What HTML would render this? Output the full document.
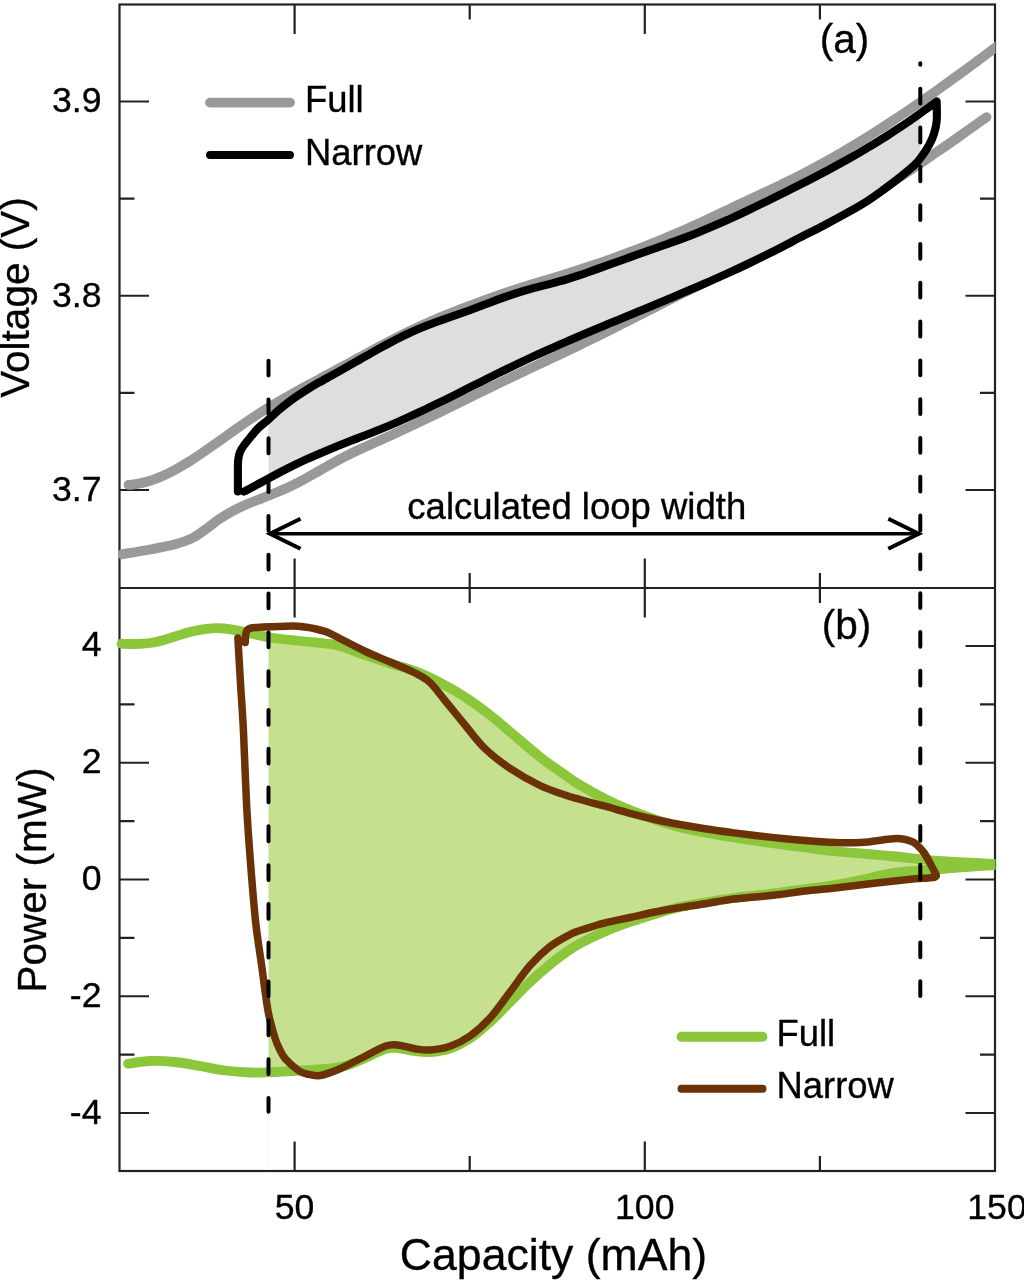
<!DOCTYPE html>
<html lang="en">
<head>
<meta charset="utf-8">
<title>Voltage and power versus capacity</title>
<style>
html,body{margin:0;padding:0;background:#fff;}
body{width:1024px;height:1280px;overflow:hidden;}
svg{display:block;will-change:transform;}
</style>
</head>
<body>
<svg width="1024" height="1280" viewBox="0 0 1024 1280">
<defs>
<clipPath id="clipA"><rect x="118.00" y="4.50" width="877.50" height="583.50"/></clipPath>
<clipPath id="clipB"><rect x="115.50" y="588.00" width="880.00" height="583.00"/></clipPath>
<clipPath id="band"><rect x="268.50" y="0" width="651.80" height="1280"/></clipPath>
</defs>
<rect width="1024" height="1280" fill="#fff"/>
<g stroke="#222222" stroke-width="2.2" fill="none" stroke-linecap="butt">
<rect x="119.50" y="4.50" width="875.50" height="1166.50"/>
<path d="M119.50 588.00 H995.00"/>
<path d="M294.60 4.50 v29.50 M294.60 558.50 v59.00 M294.60 1171.00 v-29.50 M469.70 4.50 v15.00 M469.70 573.00 v30.00 M469.70 1171.00 v-15.00 M644.80 4.50 v29.50 M644.80 558.50 v59.00 M644.80 1171.00 v-29.50 M819.90 4.50 v15.00 M819.90 573.00 v30.00 M819.90 1171.00 v-15.00 M119.50 101.50 h29.50 M995.00 101.50 h-29.50 M119.50 198.62 h15.00 M995.00 198.62 h-15.00 M119.50 295.75 h29.50 M995.00 295.75 h-29.50 M119.50 392.87 h15.00 M995.00 392.87 h-15.00 M119.50 490.00 h29.50 M995.00 490.00 h-29.50 M119.50 1113.00 h29.50 M995.00 1113.00 h-29.50 M119.50 1054.62 h15.00 M995.00 1054.62 h-15.00 M119.50 996.25 h29.50 M995.00 996.25 h-29.50 M119.50 937.88 h15.00 M995.00 937.88 h-15.00 M119.50 879.50 h29.50 M995.00 879.50 h-29.50 M119.50 821.12 h15.00 M995.00 821.12 h-15.00 M119.50 762.75 h29.50 M995.00 762.75 h-29.50 M119.50 704.38 h15.00 M995.00 704.38 h-15.00 M119.50 646.00 h29.50 M995.00 646.00 h-29.50"/>
</g>
<g clip-path="url(#clipA)">
<path d="M128.50 484.96 C130.18 484.75 135.20 484.32 138.55 483.69 C141.90 483.07 145.25 482.21 148.60 481.20 C151.95 480.18 155.30 478.96 158.66 477.61 C162.01 476.25 165.36 474.72 168.71 473.07 C172.06 471.42 175.41 469.62 178.76 467.73 C182.11 465.84 185.46 463.82 188.81 461.73 C192.16 459.65 195.51 457.45 198.86 455.22 C202.21 452.99 205.56 450.67 208.91 448.34 C212.26 446.01 215.61 443.62 218.97 441.23 C222.32 438.85 225.67 436.43 229.02 434.05 C232.37 431.66 235.72 429.27 239.07 426.93 C242.42 424.59 245.77 422.26 249.12 420.01 C252.47 417.76 255.82 415.57 259.17 413.43 C262.52 411.29 265.87 409.21 269.22 407.17 C272.57 405.12 275.93 403.13 279.28 401.17 C282.63 399.21 285.98 397.30 289.33 395.40 C292.68 393.51 296.03 391.65 299.38 389.81 C302.73 387.96 306.08 386.15 309.43 384.34 C312.78 382.52 316.13 380.73 319.48 378.94 C322.83 377.14 326.18 375.36 329.53 373.57 C332.89 371.77 336.24 369.98 339.59 368.17 C342.94 366.36 346.29 364.54 349.64 362.72 C352.99 360.89 356.34 359.06 359.69 357.23 C363.04 355.40 366.39 353.57 369.74 351.75 C373.09 349.94 376.44 348.13 379.79 346.34 C383.14 344.55 386.49 342.77 389.84 341.03 C393.20 339.28 396.55 337.55 399.90 335.86 C403.25 334.17 406.60 332.51 409.95 330.89 C413.30 329.27 416.65 327.69 420.00 326.15 C423.35 324.62 426.70 323.12 430.05 321.66 C433.40 320.20 436.75 318.78 440.10 317.38 C443.45 315.98 446.80 314.62 450.16 313.28 C453.51 311.93 456.86 310.62 460.21 309.32 C463.56 308.02 466.91 306.75 470.26 305.48 C473.61 304.22 476.96 302.97 480.31 301.74 C483.66 300.51 487.01 299.29 490.36 298.09 C493.71 296.90 497.06 295.72 500.41 294.57 C503.76 293.41 507.11 292.27 510.47 291.16 C513.82 290.05 517.17 288.96 520.52 287.89 C523.87 286.82 527.22 285.78 530.57 284.75 C533.92 283.72 537.27 282.70 540.62 281.69 C543.97 280.68 547.32 279.67 550.67 278.66 C554.02 277.65 557.37 276.64 560.72 275.62 C564.07 274.59 567.43 273.56 570.78 272.50 C574.13 271.45 577.48 270.38 580.83 269.29 C584.18 268.20 587.53 267.10 590.88 265.97 C594.23 264.85 597.58 263.71 600.93 262.55 C604.28 261.39 607.63 260.22 610.98 259.02 C614.33 257.83 617.68 256.61 621.03 255.38 C624.39 254.15 627.74 252.90 631.09 251.63 C634.44 250.37 637.79 249.08 641.14 247.77 C644.49 246.47 647.84 245.14 651.19 243.80 C654.54 242.46 657.89 241.09 661.24 239.71 C664.59 238.33 667.94 236.93 671.29 235.51 C674.64 234.09 677.99 232.65 681.34 231.19 C684.70 229.73 688.05 228.25 691.40 226.75 C694.75 225.25 698.10 223.73 701.45 222.19 C704.80 220.66 708.15 219.10 711.50 217.53 C714.85 215.97 718.20 214.39 721.55 212.80 C724.90 211.22 728.25 209.63 731.60 208.04 C734.95 206.45 738.30 204.85 741.66 203.26 C745.01 201.68 748.36 200.10 751.71 198.52 C755.06 196.94 758.41 195.38 761.76 193.81 C765.11 192.23 768.46 190.67 771.81 189.08 C775.16 187.50 778.51 185.91 781.86 184.30 C785.21 182.68 788.56 181.06 791.91 179.40 C795.26 177.75 798.61 176.07 801.97 174.35 C805.32 172.63 808.67 170.89 812.02 169.11 C815.37 167.33 818.72 165.51 822.07 163.67 C825.42 161.83 828.77 159.96 832.12 158.06 C835.47 156.15 838.82 154.22 842.17 152.26 C845.52 150.31 848.87 148.32 852.22 146.31 C855.57 144.29 858.93 142.25 862.28 140.19 C865.63 138.12 868.98 136.03 872.33 133.91 C875.68 131.80 879.03 129.66 882.38 127.50 C885.73 125.33 889.08 123.15 892.43 120.94 C895.78 118.73 899.13 116.50 902.48 114.25 C905.83 112.00 909.18 109.73 912.53 107.44 C915.89 105.15 919.24 102.84 922.59 100.51 C925.94 98.18 929.29 95.84 932.64 93.47 C935.99 91.11 939.34 88.73 942.69 86.34 C946.04 83.94 949.39 81.53 952.74 79.10 C956.09 76.68 959.44 74.23 962.79 71.78 C966.14 69.33 969.49 66.86 972.84 64.38 C976.20 61.90 979.55 59.41 982.90 56.91 C986.25 54.40 989.60 51.89 992.95 49.37 C996.30 46.84 1001.32 43.03 1003.00 41.77" fill="none" stroke="#999999" stroke-width="9.8" stroke-linecap="round" stroke-linejoin="round"/>
<path d="M122.00 554.30 C126.67 553.50 141.17 551.17 150.00 549.50 C158.83 547.83 167.92 546.22 175.00 544.30 C182.08 542.38 187.08 540.74 192.50 538.00 C197.92 535.26 203.34 530.84 207.50 527.89 C211.66 524.94 214.16 522.64 217.49 520.33 C220.82 518.02 224.15 515.96 227.47 514.02 C230.80 512.08 234.13 510.35 237.46 508.69 C240.79 507.04 244.12 505.55 247.45 504.10 C250.78 502.64 254.11 501.31 257.44 499.97 C260.76 498.62 264.09 497.36 267.42 496.04 C270.75 494.72 274.08 493.44 277.41 492.06 C280.74 490.68 284.07 489.29 287.40 487.77 C290.73 486.24 294.06 484.62 297.38 482.92 C300.71 481.21 304.04 479.38 307.37 477.55 C310.70 475.71 314.03 473.78 317.36 471.88 C320.69 469.98 324.02 468.03 327.35 466.14 C330.68 464.26 334.00 462.36 337.33 460.57 C340.66 458.77 343.99 457.03 347.32 455.36 C350.65 453.68 353.98 452.09 357.31 450.51 C360.64 448.94 363.97 447.43 367.29 445.92 C370.62 444.41 373.95 442.94 377.28 441.46 C380.61 439.98 383.94 438.52 387.27 437.03 C390.60 435.54 393.93 434.04 397.26 432.51 C400.59 430.99 403.91 429.45 407.24 427.89 C410.57 426.33 413.90 424.76 417.23 423.17 C420.56 421.59 423.89 419.99 427.22 418.38 C430.55 416.77 433.88 415.16 437.21 413.53 C440.53 411.91 443.86 410.28 447.19 408.64 C450.52 407.01 453.85 405.37 457.18 403.73 C460.51 402.09 463.84 400.44 467.17 398.81 C470.50 397.17 473.82 395.53 477.15 393.89 C480.48 392.26 483.81 390.63 487.14 389.01 C490.47 387.39 493.80 385.78 497.13 384.17 C500.46 382.57 503.79 380.97 507.12 379.38 C510.44 377.79 513.77 376.21 517.10 374.63 C520.43 373.05 523.76 371.48 527.09 369.90 C530.42 368.33 533.75 366.76 537.08 365.19 C540.41 363.62 543.74 362.05 547.06 360.48 C550.39 358.91 553.72 357.34 557.05 355.76 C560.38 354.18 563.71 352.60 567.04 351.01 C570.37 349.42 573.70 347.83 577.03 346.23 C580.35 344.63 583.68 343.02 587.01 341.41 C590.34 339.79 593.67 338.16 597.00 336.52 C600.33 334.88 603.66 333.23 606.99 331.57 C610.32 329.91 613.65 328.24 616.97 326.56 C620.30 324.89 623.63 323.20 626.96 321.52 C630.29 319.83 633.62 318.14 636.95 316.44 C640.28 314.75 643.61 313.05 646.94 311.36 C650.26 309.66 653.59 307.97 656.92 306.27 C660.25 304.58 663.58 302.89 666.91 301.21 C670.24 299.52 673.57 297.84 676.90 296.17 C680.23 294.50 683.56 292.83 686.88 291.18 C690.21 289.52 693.54 287.87 696.87 286.24 C700.20 284.60 703.53 282.98 706.86 281.37 C710.19 279.75 713.52 278.15 716.85 276.55 C720.18 274.94 723.50 273.35 726.83 271.75 C730.16 270.16 733.49 268.57 736.82 266.97 C740.15 265.38 743.48 263.79 746.81 262.19 C750.14 260.58 753.47 258.98 756.79 257.37 C760.12 255.76 763.45 254.14 766.78 252.50 C770.11 250.87 773.44 249.23 776.77 247.57 C780.10 245.92 783.43 244.25 786.76 242.56 C790.09 240.87 793.41 239.16 796.74 237.44 C800.07 235.71 803.40 233.96 806.73 232.19 C810.06 230.42 813.39 228.63 816.72 226.82 C820.05 225.00 823.38 223.17 826.71 221.31 C830.03 219.46 833.36 217.58 836.69 215.68 C840.02 213.78 843.35 211.86 846.68 209.92 C850.01 207.97 853.34 206.01 856.67 204.02 C860.00 202.04 863.32 200.03 866.65 198.00 C869.98 195.97 873.31 193.92 876.64 191.85 C879.97 189.77 883.30 187.68 886.63 185.56 C889.96 183.45 893.29 181.31 896.62 179.15 C899.94 176.99 903.27 174.81 906.60 172.61 C909.93 170.40 913.26 168.18 916.59 165.94 C919.92 163.70 923.25 161.44 926.58 159.17 C929.91 156.90 933.24 154.61 936.56 152.31 C939.89 150.01 943.22 147.70 946.55 145.38 C949.88 143.05 953.21 140.72 956.54 138.38 C959.87 136.04 963.20 133.69 966.53 131.33 C969.85 128.98 973.18 126.62 976.51 124.25 C979.84 121.89 984.84 118.34 986.50 117.15" fill="none" stroke="#999999" stroke-width="9.8" stroke-linecap="round" stroke-linejoin="round"/>
</g>
<g clip-path="url(#band)"><path d="M237.9 491.5 L237.9 466 C237.97 464.83 237.95 461.33 238.30 459.00 C238.65 456.67 239.13 454.17 240.00 452.00 C240.87 449.83 241.73 448.50 243.50 446.00 C245.27 443.50 248.12 440.00 250.60 437.00 C253.08 434.00 255.42 430.92 258.40 428.00 C261.38 425.08 265.15 422.42 268.50 419.47 C271.85 416.52 275.16 413.17 278.49 410.30 C281.82 407.44 285.15 404.79 288.48 402.27 C291.82 399.74 295.15 397.41 298.48 395.15 C301.81 392.90 305.14 390.80 308.47 388.75 C311.80 386.70 315.13 384.77 318.46 382.85 C321.79 380.93 325.12 379.09 328.45 377.24 C331.78 375.38 335.12 373.57 338.45 371.71 C341.78 369.85 345.11 367.97 348.44 366.08 C351.77 364.20 355.10 362.28 358.43 360.37 C361.76 358.47 365.09 356.55 368.42 354.66 C371.75 352.77 375.08 350.88 378.42 349.03 C381.75 347.18 385.08 345.35 388.41 343.57 C391.74 341.79 395.07 340.04 398.40 338.36 C401.73 336.68 405.06 335.05 408.39 333.49 C411.72 331.94 415.05 330.46 418.38 329.05 C421.72 327.64 425.05 326.32 428.38 325.03 C431.71 323.74 435.04 322.52 438.37 321.31 C441.70 320.10 445.03 318.95 448.36 317.78 C451.69 316.61 455.02 315.46 458.35 314.29 C461.68 313.11 465.02 311.93 468.35 310.72 C471.68 309.50 475.01 308.24 478.34 306.98 C481.67 305.72 485.00 304.43 488.33 303.17 C491.66 301.90 494.99 300.63 498.32 299.40 C501.65 298.17 504.98 296.95 508.32 295.81 C511.65 294.66 514.98 293.54 518.31 292.51 C521.64 291.47 524.97 290.51 528.30 289.58 C531.63 288.64 534.96 287.78 538.29 286.90 C541.62 286.03 544.95 285.19 548.28 284.32 C551.62 283.46 554.95 282.60 558.28 281.68 C561.61 280.77 564.94 279.83 568.27 278.82 C571.60 277.82 574.93 276.74 578.26 275.64 C581.59 274.53 584.92 273.37 588.25 272.20 C591.58 271.04 594.92 269.84 598.25 268.65 C601.58 267.46 604.91 266.26 608.24 265.06 C611.57 263.86 614.90 262.66 618.23 261.46 C621.56 260.27 624.89 259.07 628.22 257.87 C631.55 256.68 634.88 255.49 638.22 254.30 C641.55 253.11 644.88 251.93 648.21 250.76 C651.54 249.58 654.87 248.42 658.20 247.24 C661.53 246.06 664.86 244.89 668.19 243.70 C671.52 242.51 674.85 241.32 678.18 240.09 C681.52 238.87 684.85 237.63 688.18 236.36 C691.51 235.09 694.84 233.79 698.17 232.45 C701.50 231.12 704.83 229.74 708.16 228.34 C711.49 226.94 714.82 225.50 718.15 224.04 C721.48 222.58 724.82 221.09 728.15 219.58 C731.48 218.07 734.81 216.54 738.14 214.98 C741.47 213.43 744.80 211.86 748.13 210.27 C751.46 208.68 754.79 207.07 758.12 205.46 C761.45 203.84 764.78 202.21 768.12 200.58 C771.45 198.94 774.78 197.30 778.11 195.65 C781.44 194.00 784.77 192.34 788.10 190.68 C791.43 189.01 794.76 187.34 798.09 185.65 C801.42 183.96 804.75 182.26 808.08 180.55 C811.42 178.84 814.75 177.11 818.08 175.36 C821.41 173.61 824.74 171.85 828.07 170.07 C831.40 168.28 834.73 166.48 838.06 164.65 C841.39 162.83 844.72 160.98 848.05 159.10 C851.38 157.23 854.72 155.33 858.05 153.40 C861.38 151.47 864.71 149.51 868.04 147.52 C871.37 145.53 874.70 143.52 878.03 141.46 C881.36 139.41 884.69 137.32 888.02 135.20 C891.35 133.08 894.68 130.92 898.02 128.72 C901.35 126.52 904.68 124.28 908.01 122.00 C911.34 119.72 913.22 118.46 918.00 115.04 C922.78 111.62 933.58 103.76 936.70 101.50 L936.7 101.5 C936.70 104.75 937.15 115.62 936.70 121.00 C936.25 126.38 935.23 129.80 934.00 133.75 C932.77 137.70 931.25 141.06 929.30 144.70 C927.35 148.34 924.77 152.22 922.30 155.60 C919.83 158.98 918.38 161.27 914.50 165.00 C910.62 168.73 904.21 173.85 899.00 178.00 C893.79 182.15 888.48 186.10 883.25 189.90 C878.02 193.70 873.31 197.15 867.60 200.80 C861.89 204.45 856.27 207.72 849.00 211.80 C841.73 215.88 832.33 220.93 824.00 225.30 C815.67 229.67 804.84 235.01 799.00 238.02 C793.16 241.04 792.30 241.63 788.94 243.39 C785.59 245.16 782.24 246.90 778.89 248.62 C775.54 250.33 772.19 252.03 768.83 253.70 C765.48 255.38 762.13 257.03 758.78 258.66 C755.43 260.29 752.07 261.90 748.72 263.50 C745.37 265.09 742.02 266.66 738.67 268.22 C735.31 269.78 731.96 271.32 728.61 272.85 C725.26 274.38 721.91 275.89 718.56 277.39 C715.20 278.89 711.85 280.37 708.50 281.85 C705.15 283.32 701.80 284.78 698.44 286.23 C695.09 287.68 691.74 289.12 688.39 290.56 C685.04 291.99 681.69 293.41 678.33 294.83 C674.98 296.25 671.63 297.65 668.28 299.06 C664.93 300.46 661.57 301.86 658.22 303.26 C654.87 304.65 651.52 306.04 648.17 307.43 C644.81 308.82 641.46 310.20 638.11 311.59 C634.76 312.98 631.41 314.36 628.06 315.75 C624.70 317.13 621.35 318.52 618.00 319.91 C614.65 321.30 611.30 322.69 607.94 324.08 C604.59 325.48 601.24 326.88 597.89 328.28 C594.54 329.69 591.19 331.10 587.83 332.52 C584.48 333.94 581.13 335.36 577.78 336.80 C574.43 338.23 571.07 339.67 567.72 341.13 C564.37 342.58 561.02 344.04 557.67 345.52 C554.31 347.00 550.96 348.48 547.61 349.99 C544.26 351.49 540.91 353.00 537.56 354.53 C534.20 356.07 530.85 357.61 527.50 359.17 C524.15 360.74 520.80 362.32 517.44 363.91 C514.09 365.51 510.74 367.13 507.39 368.76 C504.04 370.39 500.69 372.03 497.33 373.69 C493.98 375.34 490.63 377.01 487.28 378.68 C483.93 380.34 480.57 382.02 477.22 383.70 C473.87 385.38 470.52 387.06 467.17 388.74 C463.81 390.42 460.46 392.10 457.11 393.77 C453.76 395.43 450.41 397.10 447.06 398.76 C443.70 400.41 440.35 402.06 437.00 403.69 C433.65 405.32 430.30 406.94 426.94 408.54 C423.59 410.13 420.24 411.72 416.89 413.27 C413.54 414.83 410.19 416.37 406.83 417.88 C403.48 419.39 400.13 420.88 396.78 422.34 C393.43 423.79 390.07 425.21 386.72 426.61 C383.37 428.00 380.02 429.36 376.67 430.71 C373.31 432.06 369.96 433.37 366.61 434.69 C363.26 436.01 359.91 437.31 356.56 438.62 C353.20 439.92 349.85 441.22 346.50 442.54 C343.15 443.86 339.80 445.18 336.44 446.53 C333.09 447.88 329.74 449.24 326.39 450.64 C323.04 452.04 319.69 453.46 316.33 454.92 C312.98 456.39 309.63 457.90 306.28 459.44 C302.93 460.98 299.57 462.57 296.22 464.19 C292.87 465.80 289.52 467.46 286.17 469.15 C282.81 470.84 279.46 472.57 276.11 474.33 C272.76 476.09 269.41 477.89 266.06 479.71 C262.70 481.54 259.68 483.32 256.00 485.29 C252.32 487.25 246.00 490.46 244.00 491.50" fill="#dedede" stroke="none"/></g>
<path d="M237.9 491.5 L237.9 466 C237.97 464.83 237.95 461.33 238.30 459.00 C238.65 456.67 239.13 454.17 240.00 452.00 C240.87 449.83 241.73 448.50 243.50 446.00 C245.27 443.50 248.12 440.00 250.60 437.00 C253.08 434.00 255.42 430.92 258.40 428.00 C261.38 425.08 265.15 422.42 268.50 419.47 C271.85 416.52 275.16 413.17 278.49 410.30 C281.82 407.44 285.15 404.79 288.48 402.27 C291.82 399.74 295.15 397.41 298.48 395.15 C301.81 392.90 305.14 390.80 308.47 388.75 C311.80 386.70 315.13 384.77 318.46 382.85 C321.79 380.93 325.12 379.09 328.45 377.24 C331.78 375.38 335.12 373.57 338.45 371.71 C341.78 369.85 345.11 367.97 348.44 366.08 C351.77 364.20 355.10 362.28 358.43 360.37 C361.76 358.47 365.09 356.55 368.42 354.66 C371.75 352.77 375.08 350.88 378.42 349.03 C381.75 347.18 385.08 345.35 388.41 343.57 C391.74 341.79 395.07 340.04 398.40 338.36 C401.73 336.68 405.06 335.05 408.39 333.49 C411.72 331.94 415.05 330.46 418.38 329.05 C421.72 327.64 425.05 326.32 428.38 325.03 C431.71 323.74 435.04 322.52 438.37 321.31 C441.70 320.10 445.03 318.95 448.36 317.78 C451.69 316.61 455.02 315.46 458.35 314.29 C461.68 313.11 465.02 311.93 468.35 310.72 C471.68 309.50 475.01 308.24 478.34 306.98 C481.67 305.72 485.00 304.43 488.33 303.17 C491.66 301.90 494.99 300.63 498.32 299.40 C501.65 298.17 504.98 296.95 508.32 295.81 C511.65 294.66 514.98 293.54 518.31 292.51 C521.64 291.47 524.97 290.51 528.30 289.58 C531.63 288.64 534.96 287.78 538.29 286.90 C541.62 286.03 544.95 285.19 548.28 284.32 C551.62 283.46 554.95 282.60 558.28 281.68 C561.61 280.77 564.94 279.83 568.27 278.82 C571.60 277.82 574.93 276.74 578.26 275.64 C581.59 274.53 584.92 273.37 588.25 272.20 C591.58 271.04 594.92 269.84 598.25 268.65 C601.58 267.46 604.91 266.26 608.24 265.06 C611.57 263.86 614.90 262.66 618.23 261.46 C621.56 260.27 624.89 259.07 628.22 257.87 C631.55 256.68 634.88 255.49 638.22 254.30 C641.55 253.11 644.88 251.93 648.21 250.76 C651.54 249.58 654.87 248.42 658.20 247.24 C661.53 246.06 664.86 244.89 668.19 243.70 C671.52 242.51 674.85 241.32 678.18 240.09 C681.52 238.87 684.85 237.63 688.18 236.36 C691.51 235.09 694.84 233.79 698.17 232.45 C701.50 231.12 704.83 229.74 708.16 228.34 C711.49 226.94 714.82 225.50 718.15 224.04 C721.48 222.58 724.82 221.09 728.15 219.58 C731.48 218.07 734.81 216.54 738.14 214.98 C741.47 213.43 744.80 211.86 748.13 210.27 C751.46 208.68 754.79 207.07 758.12 205.46 C761.45 203.84 764.78 202.21 768.12 200.58 C771.45 198.94 774.78 197.30 778.11 195.65 C781.44 194.00 784.77 192.34 788.10 190.68 C791.43 189.01 794.76 187.34 798.09 185.65 C801.42 183.96 804.75 182.26 808.08 180.55 C811.42 178.84 814.75 177.11 818.08 175.36 C821.41 173.61 824.74 171.85 828.07 170.07 C831.40 168.28 834.73 166.48 838.06 164.65 C841.39 162.83 844.72 160.98 848.05 159.10 C851.38 157.23 854.72 155.33 858.05 153.40 C861.38 151.47 864.71 149.51 868.04 147.52 C871.37 145.53 874.70 143.52 878.03 141.46 C881.36 139.41 884.69 137.32 888.02 135.20 C891.35 133.08 894.68 130.92 898.02 128.72 C901.35 126.52 904.68 124.28 908.01 122.00 C911.34 119.72 913.22 118.46 918.00 115.04 C922.78 111.62 933.58 103.76 936.70 101.50 L936.7 101.5 C936.70 104.75 937.15 115.62 936.70 121.00 C936.25 126.38 935.23 129.80 934.00 133.75 C932.77 137.70 931.25 141.06 929.30 144.70 C927.35 148.34 924.77 152.22 922.30 155.60 C919.83 158.98 918.38 161.27 914.50 165.00 C910.62 168.73 904.21 173.85 899.00 178.00 C893.79 182.15 888.48 186.10 883.25 189.90 C878.02 193.70 873.31 197.15 867.60 200.80 C861.89 204.45 856.27 207.72 849.00 211.80 C841.73 215.88 832.33 220.93 824.00 225.30 C815.67 229.67 804.84 235.01 799.00 238.02 C793.16 241.04 792.30 241.63 788.94 243.39 C785.59 245.16 782.24 246.90 778.89 248.62 C775.54 250.33 772.19 252.03 768.83 253.70 C765.48 255.38 762.13 257.03 758.78 258.66 C755.43 260.29 752.07 261.90 748.72 263.50 C745.37 265.09 742.02 266.66 738.67 268.22 C735.31 269.78 731.96 271.32 728.61 272.85 C725.26 274.38 721.91 275.89 718.56 277.39 C715.20 278.89 711.85 280.37 708.50 281.85 C705.15 283.32 701.80 284.78 698.44 286.23 C695.09 287.68 691.74 289.12 688.39 290.56 C685.04 291.99 681.69 293.41 678.33 294.83 C674.98 296.25 671.63 297.65 668.28 299.06 C664.93 300.46 661.57 301.86 658.22 303.26 C654.87 304.65 651.52 306.04 648.17 307.43 C644.81 308.82 641.46 310.20 638.11 311.59 C634.76 312.98 631.41 314.36 628.06 315.75 C624.70 317.13 621.35 318.52 618.00 319.91 C614.65 321.30 611.30 322.69 607.94 324.08 C604.59 325.48 601.24 326.88 597.89 328.28 C594.54 329.69 591.19 331.10 587.83 332.52 C584.48 333.94 581.13 335.36 577.78 336.80 C574.43 338.23 571.07 339.67 567.72 341.13 C564.37 342.58 561.02 344.04 557.67 345.52 C554.31 347.00 550.96 348.48 547.61 349.99 C544.26 351.49 540.91 353.00 537.56 354.53 C534.20 356.07 530.85 357.61 527.50 359.17 C524.15 360.74 520.80 362.32 517.44 363.91 C514.09 365.51 510.74 367.13 507.39 368.76 C504.04 370.39 500.69 372.03 497.33 373.69 C493.98 375.34 490.63 377.01 487.28 378.68 C483.93 380.34 480.57 382.02 477.22 383.70 C473.87 385.38 470.52 387.06 467.17 388.74 C463.81 390.42 460.46 392.10 457.11 393.77 C453.76 395.43 450.41 397.10 447.06 398.76 C443.70 400.41 440.35 402.06 437.00 403.69 C433.65 405.32 430.30 406.94 426.94 408.54 C423.59 410.13 420.24 411.72 416.89 413.27 C413.54 414.83 410.19 416.37 406.83 417.88 C403.48 419.39 400.13 420.88 396.78 422.34 C393.43 423.79 390.07 425.21 386.72 426.61 C383.37 428.00 380.02 429.36 376.67 430.71 C373.31 432.06 369.96 433.37 366.61 434.69 C363.26 436.01 359.91 437.31 356.56 438.62 C353.20 439.92 349.85 441.22 346.50 442.54 C343.15 443.86 339.80 445.18 336.44 446.53 C333.09 447.88 329.74 449.24 326.39 450.64 C323.04 452.04 319.69 453.46 316.33 454.92 C312.98 456.39 309.63 457.90 306.28 459.44 C302.93 460.98 299.57 462.57 296.22 464.19 C292.87 465.80 289.52 467.46 286.17 469.15 C282.81 470.84 279.46 472.57 276.11 474.33 C272.76 476.09 269.41 477.89 266.06 479.71 C262.70 481.54 259.68 483.32 256.00 485.29 C252.32 487.25 246.00 490.46 244.00 491.50" fill="none" stroke="#000" stroke-width="8.1" stroke-linejoin="round" stroke-linecap="round"/>
<g clip-path="url(#band)"><path d="M121.50 643.75 C123.75 643.79 130.25 644.12 135.00 644.00 C139.75 643.88 145.50 643.58 150.00 643.00 C154.50 642.42 157.83 641.58 162.00 640.50 C166.17 639.42 170.67 637.83 175.00 636.50 C179.33 635.17 183.83 633.62 188.00 632.50 C192.17 631.38 196.00 630.50 200.00 629.80 C204.00 629.10 208.00 628.52 212.00 628.30 C216.00 628.08 219.33 628.05 224.00 628.50 C228.67 628.95 232.33 629.50 240.00 631.00 C247.67 632.50 260.00 635.83 270.00 637.50 C280.00 639.17 290.83 640.00 300.00 641.00 C309.17 642.00 318.33 642.67 325.00 643.50 C331.67 644.33 333.33 644.08 340.00 646.00 C346.67 647.92 356.67 652.08 365.00 655.00 C373.33 657.92 381.67 660.83 390.00 663.50 C398.33 666.17 406.67 667.83 415.00 671.00 C423.33 674.17 431.67 678.17 440.00 682.50 C448.33 686.83 456.67 691.58 465.00 697.00 C473.33 702.42 481.67 708.50 490.00 715.00 C498.33 721.50 506.67 729.00 515.00 736.00 C523.33 743.00 531.67 750.50 540.00 757.00 C548.33 763.50 558.33 770.33 565.00 775.00 C571.67 779.67 573.33 781.03 580.00 785.00 C586.67 788.97 596.67 794.63 605.00 798.80 C613.33 802.97 621.67 806.55 630.00 810.00 C638.33 813.45 646.67 816.63 655.00 819.50 C663.33 822.37 671.67 825.03 680.00 827.20 C688.33 829.37 696.67 830.87 705.00 832.50 C713.33 834.13 721.67 835.63 730.00 837.00 C738.33 838.37 746.67 839.50 755.00 840.70 C763.33 841.90 771.67 843.07 780.00 844.20 C788.33 845.33 795.83 846.33 805.00 847.50 C814.17 848.67 824.50 850.17 835.00 851.25 C845.50 852.33 858.33 853.17 868.00 854.00 C877.67 854.83 880.50 855.04 893.00 856.25 C905.50 857.46 926.00 859.96 943.00 861.25 C960.00 862.54 985.00 863.46 995.00 864.00 C1005.00 864.54 1001.67 864.42 1003.00 864.50 L1003 865.5 C1001.67 865.42 1005.00 864.46 995.00 865.00 C985.00 865.54 960.00 867.42 943.00 868.75 C926.00 870.08 905.50 871.38 893.00 873.00 C880.50 874.62 877.67 876.50 868.00 878.50 C858.33 880.50 845.50 883.25 835.00 885.00 C824.50 886.75 814.17 887.75 805.00 889.00 C795.83 890.25 788.33 891.42 780.00 892.50 C771.67 893.58 763.33 894.50 755.00 895.50 C746.67 896.50 738.33 897.33 730.00 898.50 C721.67 899.67 713.33 901.08 705.00 902.50 C696.67 903.92 688.33 905.08 680.00 907.00 C671.67 908.92 663.33 911.50 655.00 914.00 C646.67 916.50 638.33 919.08 630.00 922.00 C621.67 924.92 613.33 927.92 605.00 931.50 C596.67 935.08 586.67 939.92 580.00 943.50 C573.33 947.08 570.00 949.50 565.00 953.00 C560.00 956.50 555.83 959.67 550.00 964.50 C544.17 969.33 536.67 975.75 530.00 982.00 C523.33 988.25 516.67 995.33 510.00 1002.00 C503.33 1008.67 496.67 1015.92 490.00 1022.00 C483.33 1028.08 476.67 1034.08 470.00 1038.50 C463.33 1042.92 456.67 1046.25 450.00 1048.50 C443.33 1050.75 435.83 1051.58 430.00 1052.00 C424.17 1052.42 420.42 1051.67 415.00 1051.00 C409.58 1050.33 402.50 1048.33 397.50 1048.00 C392.50 1047.67 390.42 1047.33 385.00 1049.00 C379.58 1050.67 371.67 1055.17 365.00 1058.00 C358.33 1060.83 351.67 1064.17 345.00 1066.00 C338.33 1067.83 332.50 1068.25 325.00 1069.00 C317.50 1069.75 308.33 1070.00 300.00 1070.50 C291.67 1071.00 283.33 1071.67 275.00 1072.00 C266.67 1072.33 258.33 1072.75 250.00 1072.50 C241.67 1072.25 233.33 1071.58 225.00 1070.50 C216.67 1069.42 208.33 1067.42 200.00 1066.00 C191.67 1064.58 183.33 1062.83 175.00 1062.00 C166.67 1061.17 157.83 1060.71 150.00 1061.00 C142.17 1061.29 131.67 1063.29 128.00 1063.75 Z" fill="#c5e08f" stroke="none"/></g>
<g clip-path="url(#clipB)">
<path d="M121.50 643.75 C123.75 643.79 130.25 644.12 135.00 644.00 C139.75 643.88 145.50 643.58 150.00 643.00 C154.50 642.42 157.83 641.58 162.00 640.50 C166.17 639.42 170.67 637.83 175.00 636.50 C179.33 635.17 183.83 633.62 188.00 632.50 C192.17 631.38 196.00 630.50 200.00 629.80 C204.00 629.10 208.00 628.52 212.00 628.30 C216.00 628.08 219.33 628.05 224.00 628.50 C228.67 628.95 232.33 629.50 240.00 631.00 C247.67 632.50 260.00 635.83 270.00 637.50 C280.00 639.17 290.83 640.00 300.00 641.00 C309.17 642.00 318.33 642.67 325.00 643.50 C331.67 644.33 333.33 644.08 340.00 646.00 C346.67 647.92 356.67 652.08 365.00 655.00 C373.33 657.92 381.67 660.83 390.00 663.50 C398.33 666.17 406.67 667.83 415.00 671.00 C423.33 674.17 431.67 678.17 440.00 682.50 C448.33 686.83 456.67 691.58 465.00 697.00 C473.33 702.42 481.67 708.50 490.00 715.00 C498.33 721.50 506.67 729.00 515.00 736.00 C523.33 743.00 531.67 750.50 540.00 757.00 C548.33 763.50 558.33 770.33 565.00 775.00 C571.67 779.67 573.33 781.03 580.00 785.00 C586.67 788.97 596.67 794.63 605.00 798.80 C613.33 802.97 621.67 806.55 630.00 810.00 C638.33 813.45 646.67 816.63 655.00 819.50 C663.33 822.37 671.67 825.03 680.00 827.20 C688.33 829.37 696.67 830.87 705.00 832.50 C713.33 834.13 721.67 835.63 730.00 837.00 C738.33 838.37 746.67 839.50 755.00 840.70 C763.33 841.90 771.67 843.07 780.00 844.20 C788.33 845.33 795.83 846.33 805.00 847.50 C814.17 848.67 824.50 850.17 835.00 851.25 C845.50 852.33 858.33 853.17 868.00 854.00 C877.67 854.83 880.50 855.04 893.00 856.25 C905.50 857.46 926.00 859.96 943.00 861.25 C960.00 862.54 985.00 863.46 995.00 864.00 C1005.00 864.54 1001.67 864.42 1003.00 864.50 L1003 865.5 C1001.67 865.42 1005.00 864.46 995.00 865.00 C985.00 865.54 960.00 867.42 943.00 868.75 C926.00 870.08 905.50 871.38 893.00 873.00 C880.50 874.62 877.67 876.50 868.00 878.50 C858.33 880.50 845.50 883.25 835.00 885.00 C824.50 886.75 814.17 887.75 805.00 889.00 C795.83 890.25 788.33 891.42 780.00 892.50 C771.67 893.58 763.33 894.50 755.00 895.50 C746.67 896.50 738.33 897.33 730.00 898.50 C721.67 899.67 713.33 901.08 705.00 902.50 C696.67 903.92 688.33 905.08 680.00 907.00 C671.67 908.92 663.33 911.50 655.00 914.00 C646.67 916.50 638.33 919.08 630.00 922.00 C621.67 924.92 613.33 927.92 605.00 931.50 C596.67 935.08 586.67 939.92 580.00 943.50 C573.33 947.08 570.00 949.50 565.00 953.00 C560.00 956.50 555.83 959.67 550.00 964.50 C544.17 969.33 536.67 975.75 530.00 982.00 C523.33 988.25 516.67 995.33 510.00 1002.00 C503.33 1008.67 496.67 1015.92 490.00 1022.00 C483.33 1028.08 476.67 1034.08 470.00 1038.50 C463.33 1042.92 456.67 1046.25 450.00 1048.50 C443.33 1050.75 435.83 1051.58 430.00 1052.00 C424.17 1052.42 420.42 1051.67 415.00 1051.00 C409.58 1050.33 402.50 1048.33 397.50 1048.00 C392.50 1047.67 390.42 1047.33 385.00 1049.00 C379.58 1050.67 371.67 1055.17 365.00 1058.00 C358.33 1060.83 351.67 1064.17 345.00 1066.00 C338.33 1067.83 332.50 1068.25 325.00 1069.00 C317.50 1069.75 308.33 1070.00 300.00 1070.50 C291.67 1071.00 283.33 1071.67 275.00 1072.00 C266.67 1072.33 258.33 1072.75 250.00 1072.50 C241.67 1072.25 233.33 1071.58 225.00 1070.50 C216.67 1069.42 208.33 1067.42 200.00 1066.00 C191.67 1064.58 183.33 1062.83 175.00 1062.00 C166.67 1061.17 157.83 1060.71 150.00 1061.00 C142.17 1061.29 131.67 1063.29 128.00 1063.75" fill="none" stroke="#8cc63a" stroke-width="9.8" stroke-linecap="round" stroke-linejoin="round"/>
</g>
<path d="M245.20 642.50 C245.25 641.67 245.37 639.08 245.50 637.50 C245.63 635.92 245.65 634.28 246.00 633.00 C246.35 631.72 246.72 630.63 247.60 629.80 C248.48 628.97 249.57 628.40 251.30 628.00 C253.03 627.60 255.13 627.60 258.00 627.40 C260.87 627.20 262.58 627.03 268.50 626.80 C274.42 626.57 287.42 625.97 293.50 626.00 C299.58 626.03 301.25 626.50 305.00 627.00 C308.75 627.50 312.17 628.08 316.00 629.00 C319.83 629.92 324.00 630.92 328.00 632.50 C332.00 634.08 333.83 635.38 340.00 638.50 C346.17 641.62 356.67 647.33 365.00 651.25 C373.33 655.17 381.67 658.38 390.00 662.00 C398.33 665.62 408.33 669.58 415.00 673.00 C421.67 676.42 425.00 677.92 430.00 682.50 C435.00 687.08 439.17 693.42 445.00 700.50 C450.83 707.58 458.33 716.98 465.00 725.00 C471.67 733.02 477.50 741.38 485.00 748.60 C492.50 755.82 500.83 762.15 510.00 768.30 C519.17 774.45 530.83 781.05 540.00 785.50 C549.17 789.95 558.33 792.67 565.00 795.00 C571.67 797.33 573.33 797.63 580.00 799.50 C586.67 801.37 596.67 803.90 605.00 806.20 C613.33 808.50 621.67 811.08 630.00 813.30 C638.33 815.52 646.67 817.63 655.00 819.50 C663.33 821.37 671.67 822.97 680.00 824.50 C688.33 826.03 696.67 827.40 705.00 828.70 C713.33 830.00 721.67 831.17 730.00 832.30 C738.33 833.43 746.67 834.50 755.00 835.50 C763.33 836.50 771.67 837.47 780.00 838.30 C788.33 839.13 795.83 839.80 805.00 840.50 C814.17 841.20 827.50 842.12 835.00 842.50 C842.50 842.88 844.50 842.88 850.00 842.80 C855.50 842.72 861.67 842.58 868.00 842.00 C874.33 841.42 883.17 839.87 888.00 839.30 C892.83 838.73 894.33 838.60 897.00 838.60 C899.67 838.60 901.67 838.85 904.00 839.30 C906.33 839.75 908.92 840.43 911.00 841.30 C913.08 842.17 914.29 842.55 916.50 844.50 C918.71 846.45 921.75 849.42 924.25 853.00 C926.75 856.58 929.54 862.42 931.50 866.00 C933.46 869.58 935.25 873.08 936.00 874.50 L936.3 876.0 C936.00 876.22 935.88 876.97 934.50 877.30 C933.12 877.63 932.42 877.63 928.00 878.00 C923.58 878.37 918.00 878.50 908.00 879.50 C898.00 880.50 880.17 882.58 868.00 884.00 C855.83 885.42 845.50 886.83 835.00 888.00 C824.50 889.17 814.17 889.92 805.00 891.00 C795.83 892.08 788.33 893.50 780.00 894.50 C771.67 895.50 763.33 896.17 755.00 897.00 C746.67 897.83 738.33 898.38 730.00 899.50 C721.67 900.62 713.33 902.42 705.00 903.75 C696.67 905.08 688.33 906.12 680.00 907.50 C671.67 908.88 663.33 910.33 655.00 912.00 C646.67 913.67 638.33 915.70 630.00 917.50 C621.67 919.30 613.33 920.63 605.00 922.80 C596.67 924.97 585.83 928.55 580.00 930.50 C574.17 932.45 575.00 931.83 570.00 934.50 C565.00 937.17 556.67 941.33 550.00 946.50 C543.33 951.67 536.67 957.92 530.00 965.50 C523.33 973.08 516.67 983.25 510.00 992.00 C503.33 1000.75 496.67 1010.67 490.00 1018.00 C483.33 1025.33 476.67 1031.29 470.00 1036.00 C463.33 1040.71 456.67 1043.92 450.00 1046.25 C443.33 1048.58 435.83 1049.58 430.00 1050.00 C424.17 1050.42 420.42 1049.58 415.00 1048.75 C409.58 1047.92 402.50 1045.42 397.50 1045.00 C392.50 1044.58 390.42 1044.38 385.00 1046.25 C379.58 1048.12 372.50 1052.50 365.00 1056.25 C357.50 1060.00 347.50 1065.54 340.00 1068.75 C332.50 1071.96 325.52 1074.62 320.00 1075.50 C314.48 1076.38 310.48 1074.83 306.90 1074.00 C303.32 1073.17 302.07 1073.00 298.50 1070.50 C294.93 1068.00 288.67 1062.58 285.50 1059.00 C282.33 1055.42 281.25 1052.50 279.50 1049.00 C277.75 1045.50 276.78 1043.67 275.00 1038.00 C273.22 1032.33 270.47 1022.83 268.80 1015.00 C267.13 1007.17 266.13 998.83 265.00 991.00 C263.87 983.17 263.55 979.42 262.00 968.00 C260.45 956.58 257.65 940.50 255.70 922.50 C253.75 904.50 251.82 879.58 250.30 860.00 C248.78 840.42 247.75 826.67 246.60 805.00 C245.45 783.33 244.40 750.00 243.40 730.00 C242.40 710.00 241.52 700.33 240.60 685.00 C239.68 669.67 238.35 645.83 237.90 638.00" fill="none" stroke="#6b3208" stroke-width="7.5" stroke-linecap="round" stroke-linejoin="round"/>
<path d="M268.50 360.75 V1111.75" stroke="#000" stroke-width="4.0" stroke-dasharray="14.80 24.00" stroke-linecap="round" fill="none"/>
<path d="M920.30 996.00 V63.20" stroke="#000" stroke-width="4.0" stroke-dasharray="14.80 24.00" stroke-linecap="round" fill="none"/>
<path d="M268.50 1116.5 V1169.5" stroke="#fbfbf4" stroke-width="3" fill="none"/>
<g stroke="#000" stroke-width="3.5" fill="none" stroke-linecap="butt" stroke-linejoin="miter">
<path d="M269.50 533.75 H919.30"/>
<path stroke-width="4" d="M300.50 518.75 L270.00 533.75 L300.50 548.75"/>
<path stroke-width="4" d="M888.30 518.75 L918.80 533.75 L888.30 548.75"/>
</g>
<g fill="none" stroke-linecap="round">
<path d="M210.00 102.60 H290.00" stroke="#999999" stroke-width="9.8"/>
<path d="M210.00 155.00 H290.00" stroke="#000" stroke-width="7.9"/>
<path d="M681.50 1036.75 H762.50" stroke="#8cc63a" stroke-width="9.8"/>
<path d="M681.50 1088.75 H762.50" stroke="#6b3208" stroke-width="7.9"/>
</g>
<g font-family="'Liberation Sans', Arial, Helvetica, sans-serif" fill="#000" stroke="#000" stroke-width="0.35">
<text x="101.50" y="112.20" font-size="35.60" text-anchor="end">3.9</text>
<text x="101.50" y="306.70" font-size="35.60" text-anchor="end">3.8</text>
<text x="101.50" y="500.70" font-size="35.60" text-anchor="end">3.7</text>
<text x="101.50" y="656.20" font-size="35.60" text-anchor="end">4</text>
<text x="101.50" y="773.20" font-size="35.60" text-anchor="end">2</text>
<text x="101.50" y="890.20" font-size="35.60" text-anchor="end">0</text>
<text x="101.50" y="1006.70" font-size="35.60" text-anchor="end">-2</text>
<text x="101.50" y="1123.70" font-size="35.60" text-anchor="end">-4</text>
<text x="294.50" y="1219.30" font-size="35.60" text-anchor="middle">50</text>
<text x="644.75" y="1219.30" font-size="35.60" text-anchor="middle">100</text>
<text x="997.00" y="1219.30" font-size="35.60" text-anchor="middle">150</text>
<text x="305.00" y="112.00" font-size="36.40" text-anchor="start">Full</text>
<text x="305.00" y="164.80" font-size="36.40" text-anchor="start">Narrow</text>
<text x="776.50" y="1046.00" font-size="36.40" text-anchor="start">Full</text>
<text x="776.50" y="1098.30" font-size="36.40" text-anchor="start">Narrow</text>
<text x="844.60" y="53.30" font-size="40.50" text-anchor="middle">(a)</text>
<text x="846.40" y="639.30" font-size="40.50" text-anchor="middle">(b)</text>
<text x="576.80" y="518.50" font-size="36.50" text-anchor="middle">calculated loop width</text>
<text x="553.50" y="1270.00" font-size="44.60" text-anchor="middle">Capacity (mAh)</text>
<text x="29.00" y="297.50" font-size="40.50" text-anchor="middle" transform="rotate(-90 29.00 297.50)">Voltage (V)</text>
<text x="46.00" y="880.00" font-size="40.50" text-anchor="middle" transform="rotate(-90 46.00 880.00)">Power (mW)</text>
</g>
</svg>
</body>
</html>
